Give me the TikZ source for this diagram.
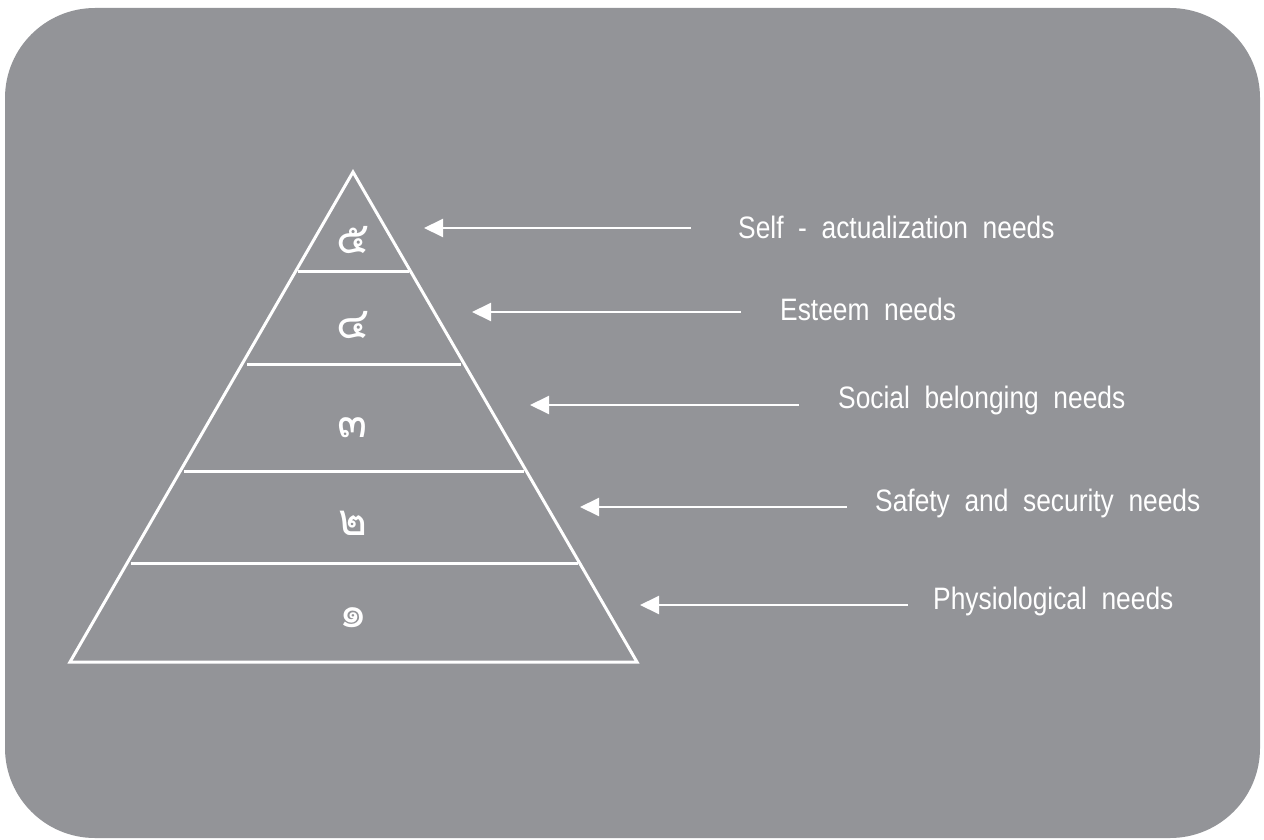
\documentclass[tikz,border=0pt]{standalone}
\usepackage{fontspec}
\setmainfont{Liberation Sans}[FakeStretch=0.85]
\newfontfamily\thaifont[Script=Thai]{Loma}
\usetikzlibrary{arrows.meta}
\definecolor{bg}{HTML}{939498}
\tikzset{
  pyr/.style={draw=white, line width=3pt, line join=miter},
  lvl/.style={draw=white, line width=3pt},
  ptr/.style={draw=white, line width=2pt, -{Triangle[length=19pt,width=18pt]}},
  lbl/.style={anchor=west, text=white, font=\fontsize{31}{33}\selectfont, inner sep=0pt},
  dig/.style={text=white, font=\thaifont\fontsize{44}{46}\selectfont, inner sep=0pt}
}
\begin{document}
\begin{tikzpicture}[x=1pt,y=-1pt]
\useasboundingbox (0,0) rectangle (1264,840);
\fill[white] (0,0) rectangle (1264,840);
\fill[bg, rounded corners=90pt] (5,8) rectangle (1260,838);
% pyramid
\coordinate (apex) at (353,172);
\coordinate (bl) at (70,662);
\coordinate (br) at (637,662);
\draw[pyr] (bl) -- (apex) -- (br) -- cycle;
\coordinate (l4a) at (298,271); \coordinate (l4b) at (409,271);
\coordinate (l3a) at (247,364); \coordinate (l3b) at (461,364);
\coordinate (l2a) at (184,471); \coordinate (l2b) at (524,471);
\coordinate (l1a) at (131,563); \coordinate (l1b) at (578,563);
\draw[lvl] (l4a) -- (l4b);
\draw[lvl] (l3a) -- (l3b);
\draw[lvl] (l2a) -- (l2b);
\draw[lvl] (l1a) -- (l1b);
% digits
\node[dig] (d5) at (353,240) {๕};
\node[dig] (d4) at (353,325) {๔};
\node[dig] (d3) at (353,428) {๓};
\node[dig] (d2) at (353,523) {๒};
\node[dig] (d1) at (353,618) {๑};
% labels
\node[lbl] (t5) at (738,227) {Self \ - \ actualization \ needs};
\node[lbl] (t4) at (780,309) {Esteem \ needs};
\node[lbl] (t3) at (838,400) {Social \ belonging \ needs};
\node[lbl] (t2) at (875,503) {Safety \ and \ security \ needs};
\node[lbl] (t1) at (933,601) {Physiological \ needs};
% arrows
\coordinate (a5s) at (691,228); \coordinate (a5e) at (424,228);
\coordinate (a4s) at (741,312); \coordinate (a4e) at (472,312);
\coordinate (a3s) at (799,405); \coordinate (a3e) at (530,405);
\coordinate (a2s) at (847,507); \coordinate (a2e) at (580,507);
\coordinate (a1s) at (908,605); \coordinate (a1e) at (640,605);
\draw[ptr] (a5s) -- (a5e);
\draw[ptr] (a4s) -- (a4e);
\draw[ptr] (a3s) -- (a3e);
\draw[ptr] (a2s) -- (a2e);
\draw[ptr] (a1s) -- (a1e);
\end{tikzpicture}
\end{document}
